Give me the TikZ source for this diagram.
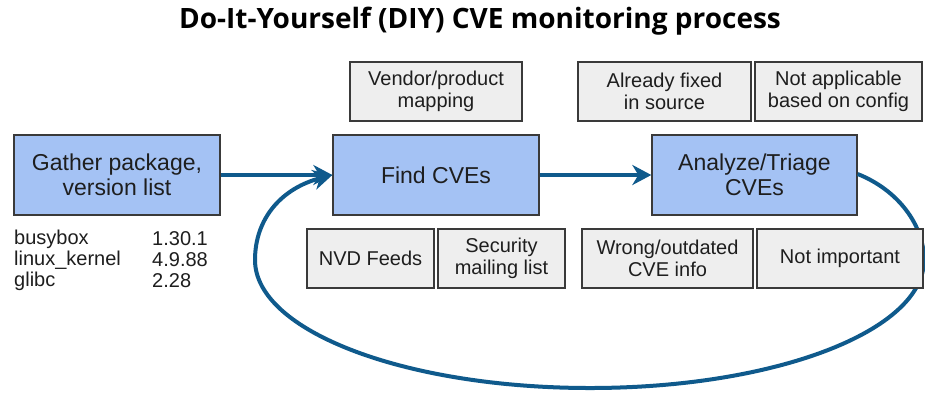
\documentclass[tikz,border=0pt]{standalone}
\usepackage{fontspec}
\setmainfont{Liberation Sans}
\newfontfamily\titlefont{Open Sans}
\usetikzlibrary{arrows.meta,calc}
\definecolor{stepblue}{HTML}{A4C2F4}
\definecolor{notegray}{HTML}{EEEEEE}
\definecolor{edgegray}{HTML}{3A3A3A}
\definecolor{flowblue}{HTML}{0F5A8C}
\definecolor{inktext}{HTML}{1E1E1E}
\begin{document}
\begin{tikzpicture}[x=1pt,y=-1pt,
  stepbox/.style={draw=edgegray,line width=1.3pt,fill=stepblue,minimum width=206pt,minimum height=80pt,
    inner sep=0pt,align=center,text=inktext,font=\fontsize{23}{25}\selectfont},
  notebox/.style={draw=edgegray,line width=1.3pt,fill=notegray,minimum height=59pt,
    inner sep=0pt,align=center,text=inktext,font=\fontsize{20}{21.5}\selectfont},
  flow/.style={draw=flowblue,line width=4pt,-{Stealth[length=19pt,width=20pt,inset=6pt]}},
  listtext/.style={anchor=west,inner sep=0pt,text=inktext,font=\fontsize{20}{22}\selectfont}]
\useasboundingbox (0,0) rectangle (925,392);
\fill[white] (0,0) rectangle (925,392);

% title
\node (title) at (480,21) {\titlefont\bfseries\fontsize{28}{32}\selectfont Do-It-Yourself (DIY) CVE monitoring process};

% main process steps
\node[stepbox] (gather) at (117,175) {Gather package,\\version list};
\node[stepbox] (find) at (436,175) {Find CVEs};
\node[stepbox,minimum width=205pt] (analyze) at (754.5,175) {Analyze/Triage\\CVEs};

% package list
\node[listtext] (pkg1) at (14,239) {busybox};
\node[listtext] (pkg2) at (14,260) {linux\_kernel};
\node[listtext] (pkg3) at (14,281) {glibc};
\node[listtext] (ver1) at (152,239) {1.30.1};
\node[listtext] (ver2) at (152,260) {4.9.88};
\node[listtext] (ver3) at (152,281) {2.28};

% loop back from triage to finding CVEs (roughly an ellipse)
\draw[flow] ($(analyze.east)+(0,-1)$) .. controls (898,190) and (924,225) .. (924,260)
  .. controls (924,331) and (775,388) .. (590,388)
  .. controls (405,388) and (255,331) .. (255,260)
  .. controls (255,218) and (282,188) .. (find.west);

% forward arrows
\draw[flow] (gather.east) -- (find.west);
\draw[flow] (find.east) -- (analyze.west);

% side notes
\node[notebox,minimum width=172pt] (vendor) at (436,91.5) {Vendor/product\\mapping};
\node[notebox,minimum width=173pt] (fixed) at (664.5,91.5) {Already fixed\\in source};
\node[notebox,minimum width=167pt] (config) at (838.5,91.5) {Not applicable\\based on config};
\node[notebox,minimum width=127pt] (nvd) at (370.5,258.5) {NVD Feeds};
\node[notebox,minimum width=127pt] (mail) at (501.5,258.5) {Security\\mailing list};
\node[notebox,minimum width=171pt] (wrong) at (667.5,258.5) {Wrong/outdated\\CVE info};
\node[notebox,minimum width=166pt] (unimp) at (840,258.5) {Not important};
\end{tikzpicture}
\end{document}
